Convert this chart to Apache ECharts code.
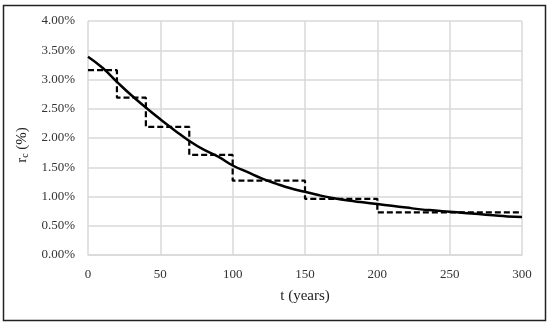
<!DOCTYPE html>
<html>
<head>
<meta charset="utf-8">
<script src="https://cdn.jsdelivr.net/npm/echarts@6/dist/echarts.min.js"></script>
<style>
html,body{margin:0;padding:0;background:#fff;}
#c{width:550px;height:325px;}
</style>
</head>
<body>
<div id="c"></div>
<script>
// Step (dashed) series: start year of each period and its rate (%)
const stepYears = [0, 20, 40, 70, 100, 150, 200, 300];
const stepRates = [3.16, 2.69, 2.19, 1.71, 1.27, 0.96, 0.73, 0.73];
// Smooth (solid) curve
const curveYears = [0,10,20,30,40,50,60,70,80,90,100,110,120,130,140,150,160,170,180,190,200,210,220,230,240,250,260,270,280,290,300];
const curveRates = [3.39,3.20,2.96,2.73,2.52,2.32,2.13,1.95,1.80,1.68,1.53,1.42,1.31,1.22,1.14,1.08,1.02,0.97,0.93,0.90,0.87,0.84,0.81,0.78,0.76,0.74,0.72,0.70,0.68,0.66,0.65];
const xTicks = [0, 50, 100, 150, 200, 250, 300];
const yTicks = [0, 0.5, 1, 1.5, 2, 2.5, 3, 3.5, 4];

const chart = echarts.init(document.getElementById('c'), null, {renderer: 'canvas'});
const font = '"Liberation Serif", "DejaVu Serif", serif';
chart.setOption({
  animation: false,
  backgroundColor: '#fff',
  textStyle: {fontFamily: font},
  graphic: [{
    type: 'rect', shape: {x: 3.5, y: 5.5, width: 542, height: 315},
    style: {fill: null, stroke: '#222', lineWidth: 1.5}, silent: true, z: -1
  }],
  grid: {left: 88, right: 28, top: 21, bottom: 70},
  xAxis: {
    type: 'value', min: xTicks[0], max: xTicks[xTicks.length - 1], interval: 50,
    name: 't (years)', nameLocation: 'middle', nameGap: 34,
    nameTextStyle: {fontFamily: font, fontSize: 15, color: '#222'},
    axisLine: {show: true, lineStyle: {color: '#d9d9d9', width: 1.5}},
    axisTick: {show: false},
    axisLabel: {fontFamily: font, fontSize: 13, color: '#333', margin: 13},
    splitLine: {show: true, lineStyle: {color: '#d9d9d9', width: 1.5}}
  },
  yAxis: {
    type: 'value', min: yTicks[0], max: yTicks[yTicks.length - 1], interval: 0.5,
    name: 'r{sub|c} (%)', nameLocation: 'middle', nameGap: 49, nameRotate: 90,
    nameTextStyle: {fontFamily: font, fontSize: 15, color: '#222', padding: [0, 14, 0, 0],
      rich: {sub: {fontFamily: font, fontSize: 10, color: '#222', padding: [7, 0, 0, 0]}}},
    axisLine: {show: false},
    axisTick: {show: false},
    axisLabel: {fontFamily: font, fontSize: 13, color: '#333', margin: 13,
      formatter: v => v.toFixed(2) + '%'},
    splitLine: {show: true, lineStyle: {color: '#d9d9d9', width: 1.5}}
  },
  series: [
    {
      type: 'line', step: 'end', showSymbol: false, silent: true,
      data: stepYears.map((x, i) => [x, stepRates[i]]),
      lineStyle: {color: '#000', width: 2.2, type: [6, 3]}, z: 3
    },
    {
      type: 'line', smooth: true, showSymbol: false, silent: true,
      data: curveYears.map((x, i) => [x, curveRates[i]]),
      lineStyle: {color: '#000', width: 2.5}, z: 4
    }
  ]
});
</script>
</body>
</html>
